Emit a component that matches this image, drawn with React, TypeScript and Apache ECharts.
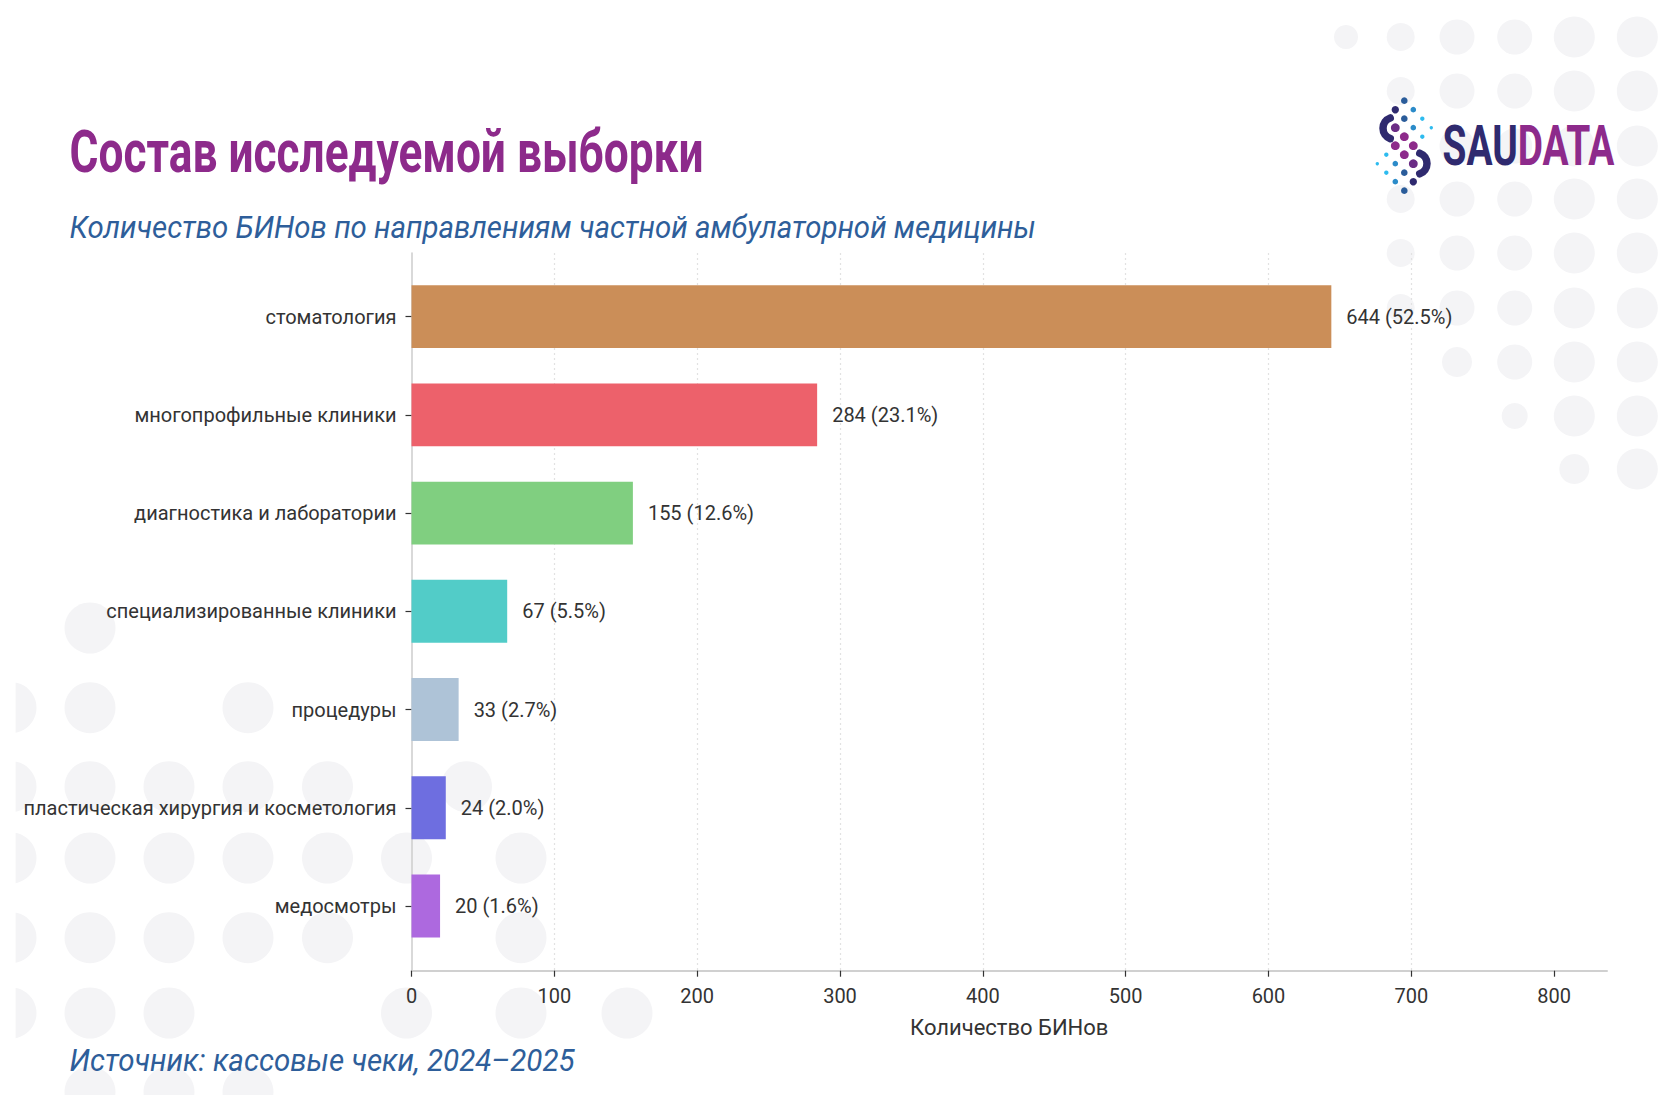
import React, { useEffect, useRef } from "react";
import * as echarts from "echarts";

// ---- data ----
const categories = [
  "стоматология",
  "многопрофильные клиники",
  "диагностика и лаборатории",
  "специализированные клиники",
  "процедуры",
  "пластическая хирургия и косметология",
  "медосмотры",
];
const counts = [644, 284, 155, 67, 33, 24, 20];
const barColors = ["#cb8e58", "#ed616b", "#80cf80", "#52ccc8", "#aec3d7", "#6e6ee0", "#ad69df"];
const xTickValues = [0, 100, 200, 300, 400, 500, 600, 700, 800];
const xMax = 837;

const titleText = "Состав исследуемой выборки";
const subtitleText = "Количество БИНов по направлениям частной амбулаторной медицины";
const sourceText = "Источник: кассовые чеки, 2024–2025";
const axisTitle = "Количество БИНов";

// ---- decoration: dot field in the upper right ----
const dotColsTR = [1346, 1400.7, 1457, 1514.7, 1574.3, 1637.3];
const dotRadTR = [12, 14, 17.5, 17.5, 20.5, 20.5];
const dotRowsTR = [37, 91, 146, 199, 253, 308, 362, 416, 469];
const dotRowFirstTR = [0, 1, 2, 1, 1, 1, 2, 3, 4];
const dotRowFirstRadTR = [0, 0, 0, 0, 0, 0, 15, 13, 15];

// ---- decoration: dot field in the lower left ----
const dotsBL: number[][] = [
  [90, 628],
  [11, 707.7], [90, 707.7], [248, 707.7],
  [11, 786.7], [90, 786.7], [169, 786.7], [248, 786.7], [327.5, 786.7], [466.5, 786.7],
  [11, 858], [90, 858], [169, 858], [248, 858], [327.5, 858], [406.5, 858], [521, 858],
  [11, 937.7], [90, 937.7], [169, 937.7], [248, 937.7], [327.5, 937.7], [521, 937.7],
  [11, 1013], [90, 1013], [169, 1013], [406.5, 1013], [521, 1013], [627, 1013],
  [90, 1092], [169, 1092], [248, 1092],
];

// ---- logo mark ----
const NAVY = "#2f2a6f";
const DEEP = "#2a5c9a";
const MID = "#2b8bc9";
const CYAN = "#2dbbef";
const DPURP = "#6a2c85";
const PURP = "#8d2a8b";
const logoDots: [number, number, number, string][] = [
  [1404.3, 100.7, 3.3, DEEP],
  [1395.3, 109.7, 3.7, NAVY],
  [1413.3, 109.7, 2.8, MID],
  [1404.3, 118.7, 3.3, DEEP],
  [1422.3, 118.7, 2.2, CYAN],
  [1395.3, 127.7, 4.4, DPURP],
  [1413.3, 127.7, 2.8, MID],
  [1431.3, 127.7, 1.7, CYAN],
  [1404.3, 136.7, 4.4, PURP],
  [1422.3, 136.7, 2.2, CYAN],
  [1395.3, 145.7, 4.4, PURP],
  [1413.3, 145.7, 4.4, PURP],
  [1386.3, 154.7, 2.2, CYAN],
  [1404.3, 154.7, 4.4, PURP],
  [1377.3, 163.7, 1.7, CYAN],
  [1395.3, 163.7, 2.8, MID],
  [1413.3, 163.7, 4.4, DPURP],
  [1386.3, 172.7, 2.2, CYAN],
  [1404.3, 172.7, 3.3, DEEP],
  [1395.3, 181.7, 2.8, MID],
  [1413.3, 181.7, 3.7, NAVY],
  [1404.3, 190.7, 3.3, DEEP],
];

const DOT_GREY = "#f4f4f6";
const TEXT_DARK = "#333333";
const BLUE_TEXT = "#2e5e9a";
const FONT = "Roboto";

function textWidth(text: string, font: string): number {
  const ctx = document.createElement("canvas").getContext("2d")!;
  ctx.font = font;
  return ctx.measureText(text).width;
}

// text laid out at a given left edge / cap-centre, narrowed to a target width
function fittedText(
  text: string,
  left: number,
  midY: number,
  width: number,
  size: number,
  weight: string,
  fontStyle: string,
  color: string,
  measureAs?: string,
  rich?: any
) {
  const w = textWidth(measureAs ?? text, `${fontStyle} ${weight} ${size}px ${FONT}`);
  return {
    type: "text",
    x: left,
    y: midY,
    scaleX: w > 0 ? width / w : 1,
    z: 5,
    style: {
      text,
      fontFamily: FONT,
      fontSize: size,
      fontWeight: weight,
      fontStyle,
      fill: color,
      align: "left",
      verticalAlign: "middle",
      rich,
    },
  };
}

export default function App() {
  const ref = useRef<HTMLDivElement>(null);

  useEffect(() => {
    if (!ref.current) return;
    const chart = echarts.init(ref.current, null, { renderer: "svg" });
    const total = counts.reduce((a, b) => a + b, 0);

    const graphics: any[] = [];

    // upper-right dot field
    dotRowsTR.forEach((cy, ri) => {
      for (let ci = dotRowFirstTR[ri]; ci < dotColsTR.length; ci++) {
        const r = ci === dotRowFirstTR[ri] && dotRowFirstRadTR[ri] ? dotRowFirstRadTR[ri] : dotRadTR[ci];
        graphics.push({ type: "circle", z: -2, shape: { cx: dotColsTR[ci], cy, r }, style: { fill: DOT_GREY } });
      }
    });
    // lower-left dot field, trimmed at its left and bottom edges
    dotsBL.forEach(([cx, cy]) => {
      graphics.push({ type: "circle", z: -2, shape: { cx, cy, r: 25.5 }, style: { fill: DOT_GREY } });
    });
    graphics.push({ type: "rect", z: -1, shape: { x: 0, y: 580, width: 15.6, height: 530 }, style: { fill: "#ffffff" } });
    graphics.push({ type: "rect", z: -1, shape: { x: 0, y: 1095, width: 720, height: 15 }, style: { fill: "#ffffff" } });

    // logo mark
    logoDots.forEach(([cx, cy, r, c]) => {
      graphics.push({ type: "circle", z: 6, shape: { cx, cy, r }, style: { fill: c } });
    });
    graphics.push({
      type: "arc",
      z: 6,
      shape: { cx: 1394, cy: 128.3, r: 11, startAngle: (110 * Math.PI) / 180, endAngle: (250 * Math.PI) / 180, clockwise: true },
      style: { stroke: NAVY, lineWidth: 7.5, lineCap: "round", fill: null },
    });
    graphics.push({
      type: "arc",
      z: 6,
      shape: { cx: 1416, cy: 163.5, r: 11, startAngle: (-70 * Math.PI) / 180, endAngle: (70 * Math.PI) / 180, clockwise: true },
      style: { stroke: NAVY, lineWidth: 7.5, lineCap: "round", fill: null },
    });
    graphics.push(
      fittedText("{a|SAU}{b|DATA}", 1442.5, 145.8, 172, 56, "bold", "normal", NAVY, "SAUDATA", {
        a: { fill: NAVY, fontFamily: FONT, fontSize: 56, fontWeight: "bold" },
        b: { fill: PURP, fontFamily: FONT, fontSize: 56, fontWeight: "bold" },
      })
    );

    // headings
    graphics.push(fittedText(titleText, 69.6, 152.5, 634, 59, "bold", "normal", "#8d2a8b"));
    graphics.push(fittedText(subtitleText, 69.6, 227, 967, 32, "normal", "italic", BLUE_TEXT));
    graphics.push(fittedText(sourceText, 69.6, 1060.5, 505, 31.5, "normal", "italic", BLUE_TEXT));

    const option: any = {
      animation: false,
      backgroundColor: "#ffffff",
      textStyle: { fontFamily: FONT },
      grid: [
        // frame: axis lines, ticks and dotted guides
        { left: 411.5, right: 73, top: 253, bottom: 139.3, outerBoundsMode: "none", containLabel: false },
        // bars: band positions inside the frame
        { left: 411.5, right: 73, top: 267.5, bottom: 154.9, outerBoundsMode: "none", containLabel: false },
      ],
      xAxis: [
        {
          gridIndex: 0,
          type: "value",
          min: 0,
          max: xMax,
          interval: 100,
          axisLine: { show: true, onZero: false, lineStyle: { color: "#d0d0d0", width: 2 } },
          axisTick: { show: true, length: 6, customValues: xTickValues, lineStyle: { color: TEXT_DARK, width: 1.2 } },
          axisLabel: { show: true, customValues: xTickValues, fontFamily: FONT, fontSize: 20, color: TEXT_DARK, margin: 15 },
          splitLine: {
            show: true,
            showMinLine: false,
            showMaxLine: false,
            lineStyle: { color: "#e2e2e2", width: 1.2, type: [2, 3] },
          },
          name: axisTitle,
          nameLocation: "middle",
          nameGap: 46,
          nameTextStyle: { fontFamily: FONT, fontSize: 22, color: TEXT_DARK },
        },
        { gridIndex: 1, type: "value", min: 0, max: xMax, show: false },
      ],
      yAxis: [
        {
          gridIndex: 0,
          type: "value",
          min: 0,
          max: 1,
          axisLine: { show: true, onZero: false, lineStyle: { color: "#d0d0d0", width: 1.6 } },
          axisTick: { show: false },
          axisLabel: { show: false },
          splitLine: { show: false },
        },
        {
          gridIndex: 1,
          type: "category",
          data: categories,
          inverse: true,
          axisLine: { show: false },
          axisTick: { show: true, alignWithLabel: true, length: 6, lineStyle: { color: TEXT_DARK, width: 1.2 } },
          axisLabel: { fontFamily: FONT, fontSize: 20, color: TEXT_DARK, margin: 15 },
          splitLine: { show: false },
        },
      ],
      series: [
        {
          type: "bar",
          xAxisIndex: 1,
          yAxisIndex: 1,
          barWidth: "64%",
          data: counts.map((v, i) => ({ value: v, itemStyle: { color: barColors[i] } })),
          label: {
            show: true,
            position: "right",
            distance: 15,
            fontFamily: FONT,
            fontSize: 20,
            color: TEXT_DARK,
            formatter: (p: any) => `${p.value} (${((p.value / total) * 100).toFixed(1)}%)`,
          },
        },
      ],
      graphic: graphics,
    };

    chart.setOption(option);
    return () => chart.dispose();
  }, []);

  return (
    <div
      ref={ref}
      style={{ position: "fixed", left: 0, top: 0, width: 1680, height: 1110, background: "#ffffff" }}
    />
  );
}
